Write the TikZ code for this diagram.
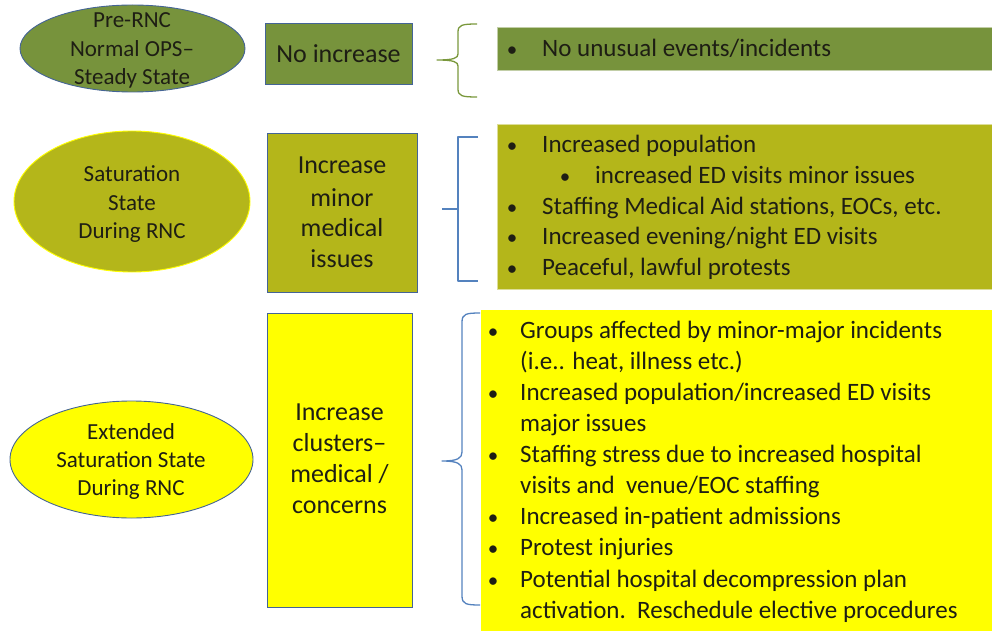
\documentclass[tikz,border=0pt]{standalone}
\usepackage{fontspec}
\setmainfont{Carlito}
\usetikzlibrary{shapes.geometric}

\definecolor{olive}{RGB}{119,147,60}
\definecolor{oliveyel}{RGB}{180,182,26}
\definecolor{brightyel}{RGB}{255,255,0}
\definecolor{boxedge}{RGB}{68,100,150}
\definecolor{braceblue}{RGB}{84,130,190}
\definecolor{bracegreen}{RGB}{122,152,60}
\definecolor{ink}{RGB}{30,30,20}

\begin{document}
\begin{tikzpicture}[x=1pt,y=-1pt,
  stateoval/.style={ellipse, inner sep=0pt, line width=0.9pt},
  levelbox/.style={rectangle, anchor=north west, inner sep=0pt, draw=boxedge, line width=1.1pt},
  panel/.style={rectangle, anchor=north west, inner sep=0pt},
  ovaltxt/.style={anchor=base, inner sep=0pt, text=ink, font=\fontsize{23}{27}\selectfont},
  boxtxt/.style={anchor=base, inner sep=0pt, text=ink, font=\fontsize{26}{30}\selectfont},
  itemtxt/.style={anchor=base west, inner sep=0pt, text=ink, font=\fontsize{25}{30}\selectfont},
  dot/.style={anchor=base, inner sep=0pt, text=ink, font=\fontsize{21}{25}\selectfont},
  bracket/.style={line width=1.3pt, line join=round}
]
\useasboundingbox (0,0) rectangle (992,631);

% ---------- state ovals ----------
\node[stateoval, fill=olive, draw=boxedge, minimum width=225pt, minimum height=87pt] (e1) at (132.5,48.5) {};
\node[stateoval, fill=oliveyel, draw=brightyel, minimum width=236pt, minimum height=141pt] (e2) at (132,201.5) {};
\node[stateoval, fill=brightyel, draw=boxedge, minimum width=243pt, minimum height=117pt] (e3) at (131.5,459.5) {};

\node[ovaltxt] (e1a) at (132,28) {Pre-RNC};
\node[ovaltxt] (e1b) at (132,57) {Normal OPS–};
\node[ovaltxt] (e1c) at (132,85) {Steady State};

\node[ovaltxt] (e2a) at (132,182) {Saturation};
\node[ovaltxt] (e2b) at (132,210) {State};
\node[ovaltxt] (e2c) at (132,238) {During RNC};

\node[ovaltxt] (e3a) at (131,439) {Extended};
\node[ovaltxt] (e3b) at (131,467) {Saturation State};
\node[ovaltxt] (e3c) at (131,495) {During RNC};

% ---------- level boxes ----------
\node[levelbox, fill=olive, minimum width=147pt, minimum height=61pt] (b1) at (265,23) {};
\node[levelbox, fill=oliveyel, minimum width=150pt, minimum height=159pt] (b2) at (267,133) {};
\node[levelbox, fill=brightyel, minimum width=145pt, minimum height=294pt] (b3) at (267,313) {};

\node[boxtxt] (b1a) at (338.5,63) {No increase};

\node[boxtxt] (b2a) at (342,174) {Increase};
\node[boxtxt] (b2b) at (342,206) {minor};
\node[boxtxt] (b2c) at (342,236) {medical};
\node[boxtxt] (b2d) at (342,267) {issues};

\node[boxtxt] (b3a) at (339.5,420) {Increase};
\node[boxtxt] (b3b) at (339.5,451) {clusters–};
\node[boxtxt] (b3c) at (339.5,482) {medical /};
\node[boxtxt] (b3d) at (339.5,513) {concerns};

% ---------- braces ----------
\draw[bracket, bracegreen]
  (477,24) .. controls (462,24) and (458,25) .. (458,32) -- (458,54)
  .. controls (458,58) and (454,60) .. (437,60)
  .. controls (454,60) and (458,62) .. (458,66) -- (458,89)
  .. controls (458,96) and (462,97) .. (477,97);

\draw[bracket, braceblue] (478,137) -- (458,137) -- (458,281) -- (478,281);
\draw[bracket, braceblue] (442,209) -- (458,209);

\draw[bracket, braceblue]
  (480,313) .. controls (466,313) and (462,314) .. (462,322) -- (462,452)
  .. controls (462,458) and (458,461) .. (442,461)
  .. controls (458,461) and (462,464) .. (462,470) -- (462,596)
  .. controls (462,604) and (466,605) .. (480,605);

% ---------- detail panels ----------
\node[panel, fill=olive, draw=olive!45!white, line width=0.6pt, minimum width=500pt, minimum height=43pt] (p1) at (497,27) {};
\node[panel, fill=oliveyel, draw=oliveyel!45!white, line width=0.6pt, minimum width=500pt, minimum height=165pt] (p2) at (497,124) {};
\node[panel, fill=brightyel, minimum width=515pt, minimum height=325pt] (p3) at (481,310) {};

\node[dot] (p1d1) at (512,57) {•};
\node[itemtxt] (p1t1) at (542,57) {No unusual events/incidents};

\node[dot] (p2d1) at (512,153) {•};
\node[itemtxt] (p2t1) at (542,153) {Increased population};
\node[dot] (p2d2) at (565,183) {•};
\node[itemtxt] (p2t2) at (595,183) {increased ED visits minor issues};
\node[dot] (p2d3) at (512,214) {•};
\node[itemtxt] (p2t3) at (542,214) {Staffing Medical Aid stations, EOCs, etc.};
\node[dot] (p2d4) at (512,244) {•};
\node[itemtxt] (p2t4) at (542,244) {Increased evening/night ED visits};
\node[dot] (p2d5) at (512,275) {•};
\node[itemtxt] (p2t5) at (542,275) {Peaceful, lawful protests};

\node[dot] (p3d1) at (493,338) {•};
\node[itemtxt] (p3t1) at (520,338) {Groups affected by minor-major incidents};
\node[itemtxt] (p3t2) at (520,369) {(i.e.. heat, illness etc.)};
\node[dot] (p3d3) at (493,400) {•};
\node[itemtxt] (p3t3) at (520,400) {Increased population/increased ED visits};
\node[itemtxt] (p3t4) at (520,431) {major issues};
\node[dot] (p3d5) at (493,462) {•};
\node[itemtxt] (p3t5) at (520,462) {Staffing stress due to increased hospital};
\node[itemtxt] (p3t6) at (520,493) {visits and\ \ venue/EOC staffing};
\node[dot] (p3d7) at (493,524) {•};
\node[itemtxt] (p3t7) at (520,524) {Increased in-patient admissions};
\node[dot] (p3d8) at (493,555) {•};
\node[itemtxt] (p3t8) at (520,555) {Protest injuries};
\node[dot] (p3d9) at (493,587) {•};
\node[itemtxt] (p3t9) at (520,587) {Potential hospital decompression plan};
\node[itemtxt] (p3t10) at (520,618) {activation.\ \ Reschedule elective procedures};
\end{tikzpicture}
\end{document}
